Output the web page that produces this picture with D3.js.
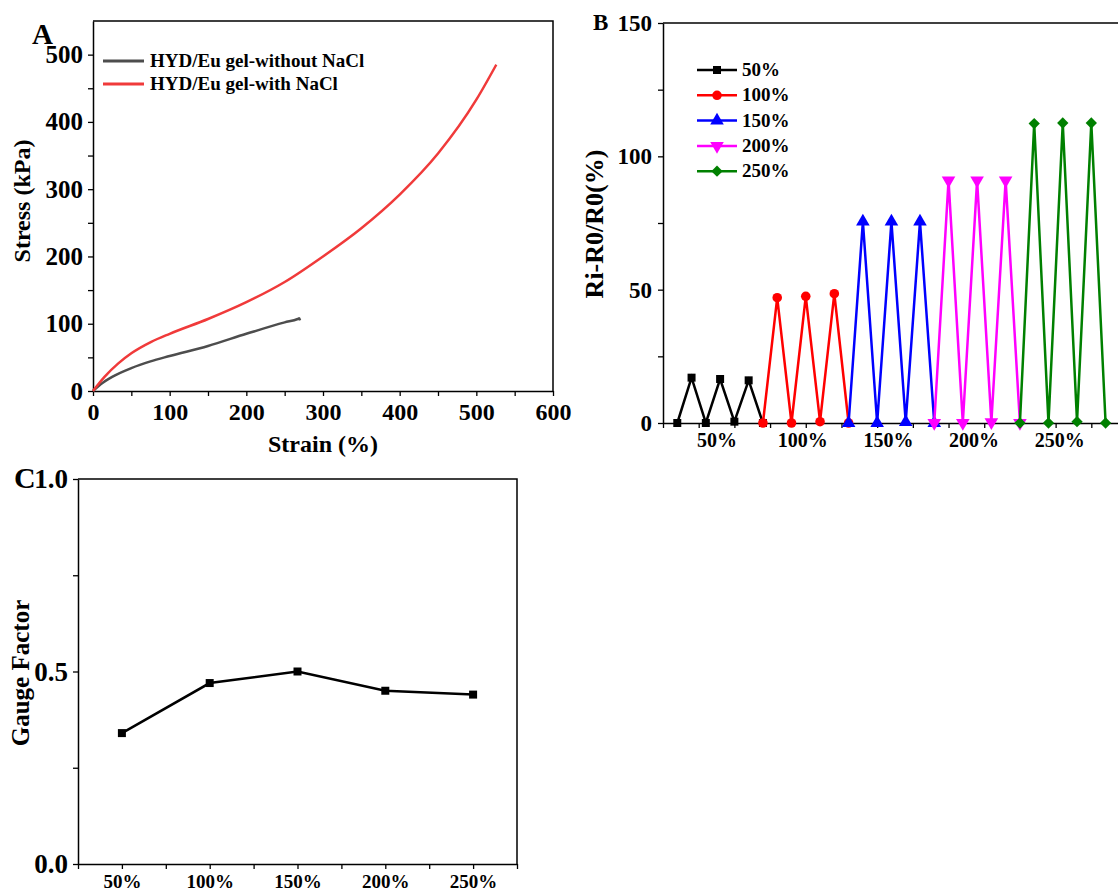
<!DOCTYPE html>
<html>
<head>
<meta charset="utf-8">
<script src="https://cdn.jsdelivr.net/npm/d3@7"></script>
<style>
  body { margin: 0; background: #fff; }
  svg text { font-family: "Liberation Serif", "Times New Roman", serif; font-weight: bold; fill: #000; }
</style>
</head>
<body>
<svg id="fig" width="1118" height="893"></svg>
<script>
// ---------- Panel A: stress–strain curves ----------
const strainWithout = [0, 10, 25, 50, 75, 100, 150, 200, 250, 267, 269, 270];
const stressWithout = [0, 10, 21, 34, 44, 52, 67, 85, 102, 107, 108, 105];
const strainWith = [0, 15, 33, 50, 76, 100, 150, 200, 250, 300, 350, 400, 450, 500, 526];
const stressWith = [0, 21, 41, 56, 73, 85, 107, 132, 162, 200, 242, 292, 353, 433, 485];
const namesA = ["HYD/Eu gel-without NaCl", "HYD/Eu gel-with NaCl"];
const colorsA = ["#4d4d4d", "#f03a3a"];
const strainTicksA = [0, 50, 100, 150, 200, 250, 300, 350, 400, 450, 500, 550, 600];
const stressTicksA = [0, 50, 100, 150, 200, 250, 300, 350, 400, 450, 500];

// ---------- Panel B: relative resistance change during cyclic stretching ----------
const strainLevels = ["50%", "100%", "150%", "200%", "250%"];
const time50 = [20, 40, 60, 80, 100, 120, 140];
const time100 = [140, 160, 180, 200, 220, 240, 260];
const time150 = [260, 280, 300, 320, 340, 360, 380];
const time200 = [380, 400, 420, 440, 460, 480, 500];
const time250 = [500, 520, 540, 560, 580, 600, 620];
const resp50 = [0, 17, 0, 16.5, 0.5, 16, 0];
const resp100 = [0, 47, 0, 47.5, 0.5, 48.5, 0];
const resp150 = [0, 75.5, 0, 75.5, 0.3, 75.5, 0];
const resp200 = [0, 91, 0, 91, 0.3, 91, 0];
const resp250 = [0, 112.3, 0, 112.5, 0.5, 112.5, 0];
const colorsB = ["#000000", "#ff0000", "#0000ff", "#ff00ff", "#008000"];
const timeTicksB = [0, 50, 100, 150, 200, 250, 300, 350, 400, 450, 500, 550, 600, 650];
const respTicksB = [0, 25, 50, 75, 100, 125, 150];

// ---------- Panel C: gauge factor ----------
const gaugeFactor = [0.34, 0.47, 0.50, 0.45, 0.44];
const gfTicksC = [0, 0.25, 0.5, 0.75, 1.0];

const FONT = '"Liberation Serif", "Times New Roman", serif';
const svg = d3.select("#fig");
svg.append("rect").attr("width", 1118).attr("height", 893).attr("fill", "#fff");

function styleAxis(g, size) {
  g.attr("font-family", FONT).attr("font-weight", "bold").attr("font-size", size);
  g.select(".domain").attr("stroke", "#000").attr("stroke-width", 1.5);
  g.selectAll(".tick line").attr("stroke", "#000").attr("stroke-width", 1.3);
  g.selectAll(".tick text").attr("fill", "#000");
}

// ======================= Panel A =======================
{
  const x = d3.scaleLinear().domain([0, 600]).range([93, 553]);
  const y = d3.scaleLinear().domain([0, 550]).range([391, 21]);
  const g = svg.append("g");

  const xa = g.append("g").attr("transform", `translate(0,${y(0)})`)
    .call(d3.axisBottom(x).tickValues(strainTicksA).tickSize(5).tickPadding(7).tickSizeOuter(0)
      .tickFormat(d => d % 100 === 0 ? d : ""));
  styleAxis(xa, 24);
  const ya = g.append("g").attr("transform", `translate(${x(0)},0)`)
    .call(d3.axisLeft(y).tickValues(stressTicksA).tickSize(5).tickPadding(5).tickSizeOuter(0)
      .tickFormat(d => d % 100 === 0 ? d : ""));
  styleAxis(ya, 25);

  // frame
  g.append("path")
    .attr("d", `M${x(0)},${y(550)}H${x(600)}V${y(0)}`)
    .attr("fill", "none").attr("stroke", "#000").attr("stroke-width", 1.5);

  const line = d3.line().x(d => x(d[0])).y(d => y(d[1])).curve(d3.curveMonotoneX);
  const curves = [d3.zip(strainWithout, stressWithout), d3.zip(strainWith, stressWith)];
  curves.forEach((pts, i) => {
    g.append("path").attr("d", line(pts)).attr("fill", "none")
      .attr("stroke", colorsA[i]).attr("stroke-width", 2.5);
  });

  // legend
  namesA.forEach((name, i) => {
    const ly = 61 + i * 23;
    g.append("line").attr("x1", 103).attr("x2", 144).attr("y1", ly).attr("y2", ly)
      .attr("stroke", colorsA[i]).attr("stroke-width", 3);
    g.append("text").attr("x", 150).attr("y", ly + 6).attr("font-size", 19).text(name);
  });

  g.append("text").attr("x", 323).attr("y", 452).attr("text-anchor", "middle")
    .attr("font-size", 24).text("Strain (%)");
  g.append("text").attr("transform", "translate(30,201) rotate(-90)").attr("text-anchor", "middle")
    .attr("font-size", 24).text("Stress (kPa)");
  g.append("text").attr("x", 32).attr("y", 44).attr("font-size", 29).text("A");
}

// ======================= Panel B =======================
{
  const x = d3.scaleLinear().domain([0, 650]).range([663, 1127]);
  const y = d3.scaleLinear().domain([0, 150]).range([423, 23]);
  const g = svg.append("g");

  const xa = g.append("g").attr("transform", `translate(0,${y(0)})`)
    .call(d3.axisBottom(x).tickValues(timeTicksB).tickSize(5).tickSizeOuter(0).tickFormat(""));
  styleAxis(xa, 20);
  const ya = g.append("g").attr("transform", `translate(${x(0)},0)`)
    .call(d3.axisLeft(y).tickValues(respTicksB).tickSize(5).tickPadding(6).tickSizeOuter(0)
      .tickFormat(d => d % 50 === 0 ? d : ""));
  styleAxis(ya, 23);
  g.append("path").attr("d", `M${x(0)},${y(150)}H${x(650)}`)
    .attr("fill", "none").attr("stroke", "#000").attr("stroke-width", 1.5);

  const times = [time50, time100, time150, time200, time250];
  const resps = [resp50, resp100, resp150, resp200, resp250];
  const symbols = [
    { type: d3.symbolSquare, size: 64, rot: 0 },
    { type: d3.symbolCircle, size: 72, rot: 0 },
    { type: d3.symbolTriangle, size: 80, rot: 0 },
    { type: d3.symbolTriangle, size: 80, rot: 180 },
    { type: d3.symbolSquare, size: 64, rot: 45 }
  ];
  const line = d3.line().x(d => x(d[0])).y(d => y(d[1]));

  times.forEach((t, i) => {
    const pts = d3.zip(t, resps[i]);
    g.append("path").attr("d", line(pts)).attr("fill", "none")
      .attr("stroke", colorsB[i]).attr("stroke-width", 2.5).attr("stroke-linejoin", "miter");
    const s = symbols[i];
    g.selectAll(null).data(pts).join("path")
      .attr("d", d3.symbol().type(s.type).size(s.size)())
      .attr("transform", d => `translate(${x(d[0])},${y(d[1])}) rotate(${s.rot})`)
      .attr("fill", colorsB[i]);
    // strain level label under each group of cycles
    g.append("text").attr("x", x(d3.mean([t[0], t[t.length - 1]])) - 3).attr("y", 447)
      .attr("text-anchor", "middle").attr("font-size", 20).text(strainLevels[i]);
  });

  // legend
  strainLevels.forEach((name, i) => {
    const ly = 70 + i * 25.3;
    g.append("line").attr("x1", 697).attr("x2", 737).attr("y1", ly).attr("y2", ly)
      .attr("stroke", colorsB[i]).attr("stroke-width", 2.5);
    const s = symbols[i];
    g.append("path").attr("d", d3.symbol().type(s.type).size(s.size)())
      .attr("transform", `translate(717,${ly}) rotate(${s.rot})`).attr("fill", colorsB[i]);
    g.append("text").attr("x", 742).attr("y", ly + 6).attr("font-size", 19).text(name);
  });

  g.append("text").attr("transform", "translate(603,224) rotate(-90)").attr("text-anchor", "middle")
    .attr("font-size", 26).text("Ri-R0/R0(%)");
  g.append("text").attr("x", 593).attr("y", 30).attr("font-size", 23).text("B");
}

// ======================= Panel C =======================
{
  const x = d3.scaleLinear().domain([0.5, 5.5]).range([78, 517]);
  const y = d3.scaleLinear().domain([0, 1]).range([864, 479]);
  const g = svg.append("g");

  const xa = g.append("g").attr("transform", `translate(0,${y(0)})`)
    .call(d3.axisBottom(x).tickValues(d3.range(0.5, 5.51, 0.5)).tickSize(5).tickPadding(6).tickSizeOuter(0)
      .tickFormat(d => Number.isInteger(d) ? strainLevels[d - 1] : ""));
  styleAxis(xa, 19);
  const ya = g.append("g").attr("transform", `translate(${x(0.5)},0)`)
    .call(d3.axisLeft(y).tickValues(gfTicksC).tickSize(5).tickPadding(5).tickSizeOuter(0)
      .tickFormat(d => (d * 2) % 1 === 0 ? d3.format(".1f")(d) : ""));
  styleAxis(ya, 27);
  g.append("path").attr("d", `M${x(0.5)},${y(1)}H${x(5.5)}V${y(0)}`)
    .attr("fill", "none").attr("stroke", "#000").attr("stroke-width", 1.5);

  const pts = gaugeFactor.map((v, i) => [i + 1, v]);
  g.append("path").attr("d", d3.line().x(d => x(d[0])).y(d => y(d[1]))(pts))
    .attr("fill", "none").attr("stroke", "#000").attr("stroke-width", 2.5);
  g.selectAll(null).data(pts).join("path")
    .attr("d", d3.symbol().type(d3.symbolSquare).size(64)())
    .attr("transform", d => `translate(${x(d[0])},${y(d[1])})`)
    .attr("fill", "#000");

  g.append("text").attr("transform", "translate(29,673) rotate(-90)").attr("text-anchor", "middle")
    .attr("font-size", 25).text("Gauge Factor");
  g.append("text").attr("x", 14).attr("y", 488).attr("font-size", 30).text("C");
}
</script>
</body>
</html>
